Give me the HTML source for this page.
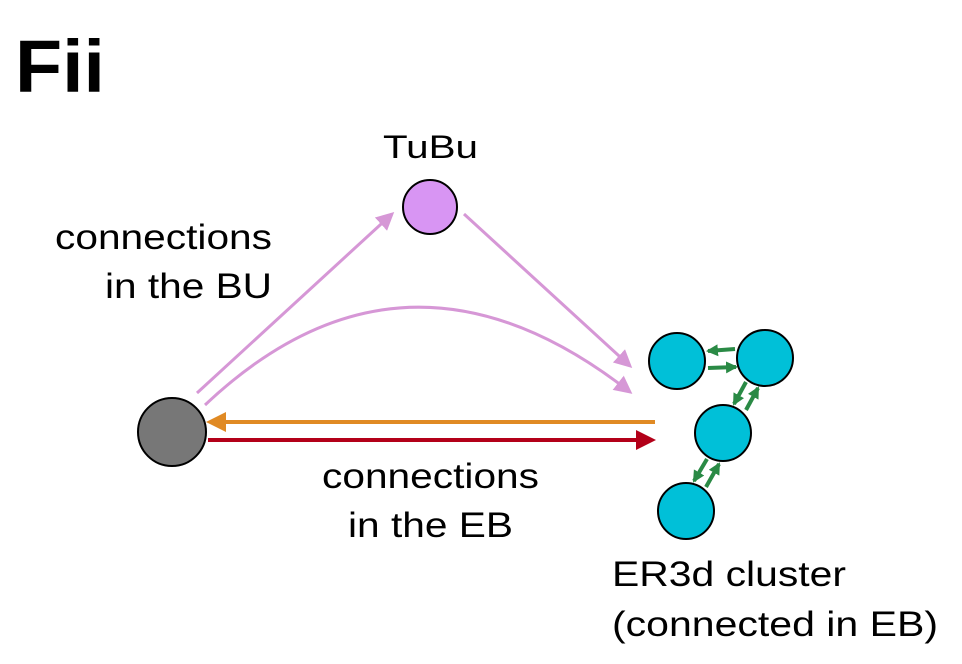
<!DOCTYPE html>
<html><head><style>
body{margin:0;width:962px;height:664px;background:#fff;overflow:hidden}
svg{position:absolute;left:0;top:0}
text{font-family:"Liberation Sans",Arial,sans-serif;fill:#000}
</style></head><body>
<svg width="962" height="664" viewBox="0 0 962 664">
<defs>
<marker id="pk" markerWidth="6" markerHeight="6" refX="5" refY="3" orient="auto" markerUnits="strokeWidth"><path d="M0,0 L6,3 L0,6 z" fill="#d697d6"/></marker>
<marker id="or" markerWidth="5" markerHeight="5" refX="4" refY="2.5" orient="auto" markerUnits="strokeWidth"><path d="M0,0 L5,2.5 L0,5 z" fill="#e08a24"/></marker>
<marker id="rd" markerWidth="5" markerHeight="5" refX="4" refY="2.5" orient="auto" markerUnits="strokeWidth"><path d="M0,0 L5,2.5 L0,5 z" fill="#b30019"/></marker>
<marker id="gr" markerWidth="3" markerHeight="3" refX="2.5" refY="1.5" orient="auto" markerUnits="strokeWidth"><path d="M0,0 L3,1.5 L0,3 z" fill="#2a8a45"/></marker>
</defs>
<text x="15" y="92" font-size="74" font-weight="bold" textLength="90" lengthAdjust="spacingAndGlyphs">Fii</text>
<text x="383" y="158" font-size="32" textLength="95" lengthAdjust="spacingAndGlyphs">TuBu</text>
<text x="55" y="249" font-size="35" textLength="217" lengthAdjust="spacingAndGlyphs">connections</text>
<text x="105" y="298" font-size="35" textLength="167" lengthAdjust="spacingAndGlyphs">in the BU</text>
<text x="322" y="488" font-size="35" textLength="217" lengthAdjust="spacingAndGlyphs">connections</text>
<text x="348" y="537" font-size="35" textLength="165" lengthAdjust="spacingAndGlyphs">in the EB</text>
<text x="612" y="586" font-size="35" textLength="234" lengthAdjust="spacingAndGlyphs">ER3d cluster</text>
<text x="612" y="636" font-size="35" textLength="326" lengthAdjust="spacingAndGlyphs">(connected in EB)</text>
<g stroke="#d697d6" stroke-width="3" fill="none" marker-end="url(#pk)">
<line x1="197" y1="393" x2="392" y2="214"/>
<line x1="464" y1="214" x2="630" y2="366"/>
<path d="M205,405 Q405,216 630,392"/>
</g>
<line x1="655" y1="422" x2="210" y2="422" stroke="#e08a24" stroke-width="4" marker-end="url(#or)"/>
<line x1="208" y1="440" x2="652" y2="440" stroke="#b30019" stroke-width="4" marker-end="url(#rd)"/>
<g stroke="#2a8a45" stroke-width="4" marker-end="url(#gr)">
<line x1="735" y1="349" x2="708" y2="351"/>
<line x1="708" y1="368" x2="736" y2="367"/>
<line x1="746" y1="382" x2="734" y2="404"/>
<line x1="746" y1="410" x2="758" y2="388"/>
<line x1="707" y1="459" x2="694" y2="481"/>
<line x1="706" y1="487" x2="719" y2="464"/>
</g>
<g stroke="#000" stroke-width="2">
<circle cx="172" cy="432" r="34" fill="#777"/>
<circle cx="430" cy="207" r="27" fill="#d895f3"/>
<g fill="#00c0d8">
<circle cx="677" cy="361" r="28"/>
<circle cx="765" cy="358" r="28"/>
<circle cx="723" cy="433" r="28"/>
<circle cx="686" cy="511" r="28"/>
</g></g>
</svg>
</body></html>
